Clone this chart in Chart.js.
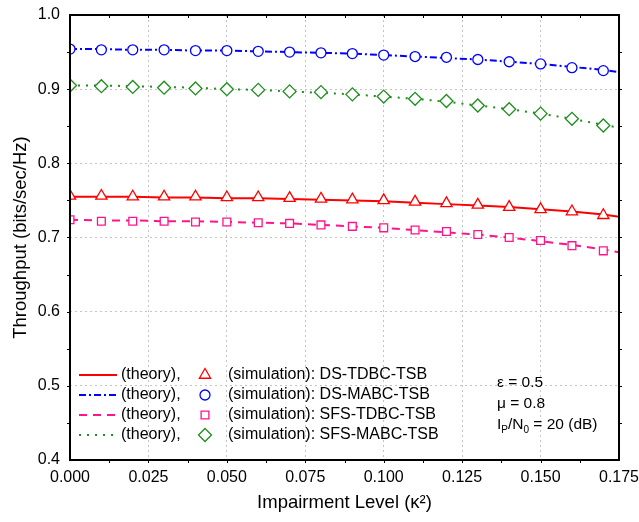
<!DOCTYPE html>
<html>
<head>
<meta charset="utf-8">
<script src="https://cdn.jsdelivr.net/npm/chart.js"></script>
<style>
  body { margin: 0; background: #fff; }
  #wrap { width: 639px; height: 522px; }
</style>
</head>
<body>
<div id="wrap"><canvas id="throughputChart" width="639" height="522"></canvas></div>
<script>
// impairment level (kappa^2) for simulation markers and theory curves
const simKappa = [0, 0.01, 0.02, 0.03, 0.04, 0.05, 0.06, 0.07, 0.08, 0.09, 0.10, 0.11, 0.12, 0.13, 0.14, 0.15, 0.16, 0.17];
const theoryKappa = [0, 0.01, 0.02, 0.03, 0.04, 0.05, 0.06, 0.07, 0.08, 0.09, 0.10, 0.11, 0.12, 0.13, 0.14, 0.15, 0.16, 0.17, 0.175];

const dsTdbcTheory = [0.755, 0.755, 0.755, 0.754, 0.754, 0.753, 0.753, 0.752, 0.751, 0.750, 0.749, 0.747, 0.745, 0.743, 0.741, 0.738, 0.735, 0.731, 0.728];
const dsTdbcSim = [0.756, 0.756, 0.755, 0.755, 0.755, 0.754, 0.754, 0.753, 0.752, 0.751, 0.750, 0.748, 0.746, 0.744, 0.741, 0.738, 0.735, 0.730];

const dsMabcTheory = [0.954, 0.954, 0.953, 0.953, 0.952, 0.952, 0.951, 0.950, 0.949, 0.948, 0.946, 0.944, 0.942, 0.940, 0.937, 0.934, 0.930, 0.926, 0.923];
const dsMabcSim = [0.954, 0.953, 0.953, 0.953, 0.952, 0.952, 0.951, 0.950, 0.949, 0.948, 0.946, 0.944, 0.943, 0.940, 0.937, 0.934, 0.929, 0.925];

const sfsTdbcTheory = [0.724, 0.723, 0.723, 0.722, 0.722, 0.721, 0.720, 0.719, 0.717, 0.715, 0.713, 0.710, 0.707, 0.704, 0.700, 0.695, 0.690, 0.684, 0.680];
const sfsTdbcSim = [0.724, 0.722, 0.722, 0.722, 0.721, 0.721, 0.720, 0.719, 0.717, 0.715, 0.713, 0.710, 0.708, 0.704, 0.700, 0.696, 0.689, 0.682];

const sfsMabcTheory = [0.905, 0.905, 0.904, 0.903, 0.902, 0.900, 0.899, 0.897, 0.895, 0.893, 0.890, 0.887, 0.883, 0.878, 0.873, 0.867, 0.860, 0.852, 0.848];
const sfsMabcSim = [0.905, 0.904, 0.903, 0.902, 0.901, 0.900, 0.899, 0.897, 0.896, 0.893, 0.890, 0.887, 0.884, 0.878, 0.873, 0.867, 0.860, 0.851];

const schemeNames = ['DS-TDBC-TSB', 'DS-MABC-TSB', 'SFS-TDBC-TSB', 'SFS-MABC-TSB'];
const xTickValues = [0, 0.025, 0.05, 0.075, 0.1, 0.125, 0.15, 0.175];
const yTickValues = [0.4, 0.5, 0.6, 0.7, 0.8, 0.9, 1.0];

const FONT = 'Arial, "Liberation Sans", sans-serif';

const styles = [
  { color: 'rgb(255, 0, 0)', dash: [], marker: 'triangle', radius: 6.5 },
  { color: 'rgb(0, 0, 255)', dash: [7, 3, 2, 3], marker: 'circle', radius: 5 },
  { color: 'rgb(255, 20, 140)', dash: [8, 6], marker: 'rect', radius: 5.5 },
  { color: 'rgb(30, 140, 30)', dash: [2, 6], marker: 'rectRot', radius: 6.5 },
];

const theorySets = [dsTdbcTheory, dsMabcTheory, sfsTdbcTheory, sfsMabcTheory];
const simSets = [dsTdbcSim, dsMabcSim, sfsTdbcSim, sfsMabcSim];

const toPoints = (xs, ys) => ys.map((y, i) => ({ x: xs[i], y: y }));

const datasets = [];
theorySets.forEach((vals, i) => {
  datasets.push({
    label: '(theory) ' + schemeNames[i],
    data: toPoints(theoryKappa, vals),
    borderColor: styles[i].color,
    borderWidth: 2,
    borderDash: styles[i].dash,
    pointRadius: 0,
    tension: 0,
    order: 2,
  });
});
simSets.forEach((vals, i) => {
  datasets.push({
    label: '(simulation) ' + schemeNames[i],
    data: toPoints(simKappa, vals),
    showLine: false,
    borderColor: styles[i].color,
    pointStyle: styles[i].marker,
    pointRadius: styles[i].radius,
    pointBorderWidth: 1.3,
    pointBackgroundColor: '#fff',
    pointBorderColor: styles[i].color,
    order: 1,
  });
});

function drawMarker(ctx, style, x, y) {
  const r = style.radius;
  ctx.save();
  ctx.beginPath();
  if (style.marker === 'circle') {
    ctx.arc(x, y, r, 0, Math.PI * 2);
  } else if (style.marker === 'triangle') {
    const w = r * Math.sin(Math.PI / 3);
    ctx.moveTo(x, y - r);
    ctx.lineTo(x + w, y + r / 2);
    ctx.lineTo(x - w, y + r / 2);
    ctx.closePath();
  } else if (style.marker === 'rect') {
    const s = r * Math.SQRT1_2;
    ctx.rect(x - s, y - s, 2 * s, 2 * s);
  } else {
    ctx.moveTo(x, y - r);
    ctx.lineTo(x + r, y);
    ctx.lineTo(x, y + r);
    ctx.lineTo(x - r, y);
    ctx.closePath();
  }
  ctx.fillStyle = '#fff';
  ctx.fill();
  ctx.lineWidth = 1.3;
  ctx.strokeStyle = style.color;
  ctx.stroke();
  ctx.restore();
}

const framePlugin = {
  id: 'framePlugin',
  beforeDraw(chart) {
    const ctx = chart.ctx;
    ctx.save();
    ctx.fillStyle = '#fff';
    ctx.fillRect(0, 0, chart.width, chart.height);
    ctx.restore();
  },
  afterDatasetsDraw(chart) {
    const { ctx, chartArea: a, scales } = chart;
    ctx.save();
    ctx.strokeStyle = '#000';
    ctx.lineWidth = 1;
    ctx.beginPath();
    // y ticks every 0.05, outward on both sides
    for (let v = 0.45; v < 1.0; v += 0.05) {
      const y = Math.round(scales.y.getPixelForValue(v)) + 0.5;
      ctx.moveTo(a.left - 3, y); ctx.lineTo(a.left, y);
      ctx.moveTo(a.right, y); ctx.lineTo(a.right + 3, y);
    }
    // x ticks every 0.0125
    for (let v = 0.0125; v < 0.175; v += 0.0125) {
      const x = Math.round(scales.x.getPixelForValue(v)) + 0.5;
      ctx.moveTo(x, a.top); ctx.lineTo(x, a.top + 3);
      ctx.moveTo(x, a.bottom); ctx.lineTo(x, a.bottom + 3);
    }
    ctx.stroke();
    ctx.lineWidth = 2;
    ctx.strokeRect(a.left, a.top, a.right - a.left, a.bottom - a.top);
    ctx.restore();
  },
  afterDraw(chart) {
    const ctx = chart.ctx;
    ctx.save();
    ctx.font = '16px ' + FONT;
    ctx.textBaseline = 'middle';
    ctx.fillStyle = '#000';
    const rows = [375, 395, 415, 435];
    styles.forEach((s, i) => {
      const y = rows[i];
      ctx.save();
      ctx.strokeStyle = s.color;
      ctx.lineWidth = 2;
      ctx.setLineDash(s.dash);
      ctx.beginPath();
      ctx.moveTo(79, y);
      ctx.lineTo(117, y);
      ctx.stroke();
      ctx.restore();
      ctx.fillText('(theory),', 121, y);
      drawMarker(ctx, s, 205, y);
      ctx.fillText('(simulation): ' + schemeNames[i], 228, y);
    });

    // parameter annotation
    ctx.font = '15.5px ' + FONT;
    ctx.fillText('\u03b5 = 0.5', 497, 383);
    ctx.fillText('\u03bc = 0.8', 497, 404);
    let x = 497;
    const y = 425;
    ctx.fillText('I', x, y); x += ctx.measureText('I').width;
    ctx.font = '10px ' + FONT;
    ctx.fillText('P', x, y + 5); x += ctx.measureText('P').width;
    ctx.font = '15.5px ' + FONT;
    ctx.fillText('/N', x, y); x += ctx.measureText('/N').width;
    ctx.font = '10px ' + FONT;
    ctx.fillText('0', x, y + 5); x += ctx.measureText('0').width;
    ctx.font = '15.5px ' + FONT;
    ctx.fillText(' = 20 (dB)', x, y);
    ctx.restore();
  },
};

new Chart(document.getElementById('throughputChart'), {
  type: 'line',
  data: { datasets: datasets },
  plugins: [framePlugin],
  options: {
    responsive: false,
    animation: false,
    layout: { padding: { top: 15, right: 20, left: 0, bottom: 0 } },
    plugins: {
      legend: { display: false },
      tooltip: { enabled: false },
    },
    scales: {
      x: {
        type: 'linear',
        min: 0,
        max: 0.175,
        afterBuildTicks: (s) => { s.ticks = xTickValues.map((v) => ({ value: v })); },
        afterFit: (s) => { s.height = 62; s.paddingLeft = 0; s.paddingRight = 0; },
        ticks: {
          padding: 8,
          color: '#000',
          font: { family: FONT, size: 16 },
          maxRotation: 0,
          callback: (v) => Number(v).toFixed(3),
        },
        grid: { color: '#c4c4c4', lineWidth: 1, drawTicks: false },
        border: { display: false, dash: [2, 3] },
        title: {
          display: true,
          text: 'Impairment Level (\u03ba\u00b2)',
          color: '#000',
          font: { family: FONT, size: 18.5 },
          padding: { top: 0, bottom: 8 },
        },
      },
      y: {
        min: 0.4,
        max: 1.0,
        afterBuildTicks: (s) => { s.ticks = yTickValues.map((v) => ({ value: v })); },
        afterFit: (s) => { s.width = 70; s.paddingTop = 0; s.paddingBottom = 0; },
        ticks: {
          padding: 10,
          color: '#000',
          font: { family: FONT, size: 16 },
          callback: (v) => Number(v).toFixed(1),
        },
        grid: { color: '#c4c4c4', lineWidth: 1, drawTicks: false },
        border: { display: false, dash: [2, 3] },
        title: {
          display: true,
          text: 'Throughput (bits/sec/Hz)',
          color: '#000',
          font: { family: FONT, size: 18.5 },
          padding: { top: 10, bottom: 0 },
        },
      },
    },
  },
});
</script>
</body>
</html>
